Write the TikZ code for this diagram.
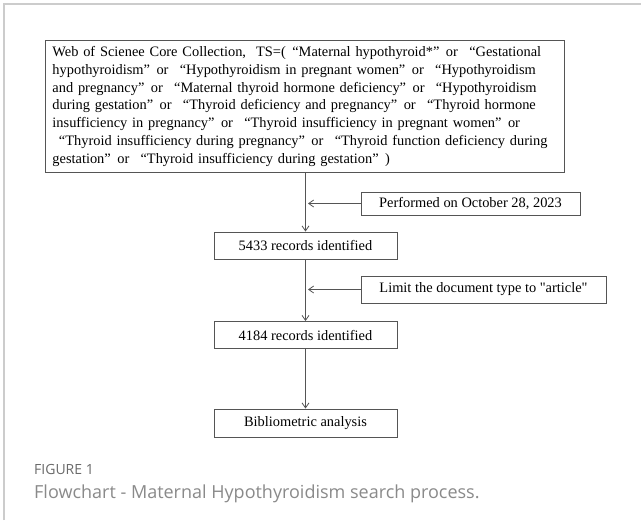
\documentclass[tikz,border=0pt]{standalone}
\usepackage{fontspec}
\setmainfont{Liberation Serif}[Ligatures=TeXOff]
\newfontfamily\capfont{Open Sans}
\usetikzlibrary{arrows.meta,calc}
\definecolor{framegray}{HTML}{CCCCCC}
\definecolor{boxgray}{HTML}{555555}
\definecolor{capgray}{HTML}{6A6A6A}
\definecolor{capgraylt}{HTML}{8A8A8A}
\newcommand\oq{\hspace{0.45em}“}
\newcommand\cq{”\hspace{0.45em}}
\tikzset{
  flowbox/.style={draw=boxgray, line width=0.9pt, inner sep=0pt, align=center,
    font=\fontsize{14.4}{17}\selectfont, text=black},
  flowarrow/.style={draw=boxgray, line width=0.9pt, -{Straight Barb[length=5pt,width=7pt,line width=0.8pt]}},
}
\begin{document}
\begin{tikzpicture}[x=1pt,y=-1pt]
\useasboundingbox (0,0) rectangle (641,528);
\fill[white] (0,0) rectangle (641,528);
% card frame
\draw[framegray, line width=1.3pt] (4,520) -- (4,4) -- (641,4);
% main box
\node[flowbox, anchor=north west, minimum width=519pt, minimum height=132pt,
  text width=505pt, align=left, font=\fontsize{14.4}{17.9}\selectfont] (main) at (45,40)
{Web of Scienee Core Collection,\hspace{0.7em}TS=(\oq Maternal hypothyroid*\cq or \oq Gestational\\
hypothyroidism\cq or \oq Hypothyroidism in pregnant women\cq or \oq Hypothyroidism\\
and pregnancy\cq or \oq Maternal thyroid hormone deficiency\cq or \oq Hypothyroidism\\
during gestation\cq or \oq Thyroid deficiency and pregnancy\cq or \oq Thyroid hormone\\
insufficiency in pregnancy\cq or \oq Thyroid insufficiency in pregnant women\cq or\\
\oq Thyroid insufficiency during pregnancy\cq or \oq Thyroid function deficiency during\\
gestation\cq or \oq Thyroid insufficiency during gestation\cq)};
% side boxes
\node[flowbox, minimum width=219pt, minimum height=23pt] (perf) at (470.5,203.5) {Performed on October 28, 2023};
\node[flowbox, minimum width=245pt, minimum height=27pt] (limit) at (483.5,289.5) {Limit the document type to "article"};
% main chain
\node[flowbox, minimum width=183pt, minimum height=27pt] (r1) at (305.5,245.5) {5433 records identified};
\node[flowbox, minimum width=183pt, minimum height=27pt] (r2) at (305.5,335) {4184 records identified};
\node[flowbox, minimum width=183pt, minimum height=28pt] (bib) at (305.5,423) {Bibliometric analysis};
% arrows
\draw[flowarrow] (main.south -| r1.north) -- (r1.north);
\draw[flowarrow] (r1.south) -- (r2.north);
\draw[flowarrow] (r2.south) -- (bib.north);
\coordinate (t1) at ($(perf.west -| r1.north)+(2.5,0)$);
\coordinate (t2) at ($(limit.west -| r1.north)+(2.5,0)$);
\draw[flowarrow] (perf.west) -- (t1);
\draw[flowarrow] (limit.west) -- (t2);
% caption
\node[anchor=base west, inner sep=0pt, font=\capfont\fontsize{14}{16}\selectfont, text=capgray] (fig) at (34,474) {FIGURE 1};
\node[anchor=base west, inner sep=0pt, font=\capfont\fontsize{18}{22}\selectfont, text=capgraylt] (cap) at (34,498) {Flowchart - Maternal Hypothyroidism search process.};
\end{tikzpicture}
\end{document}
